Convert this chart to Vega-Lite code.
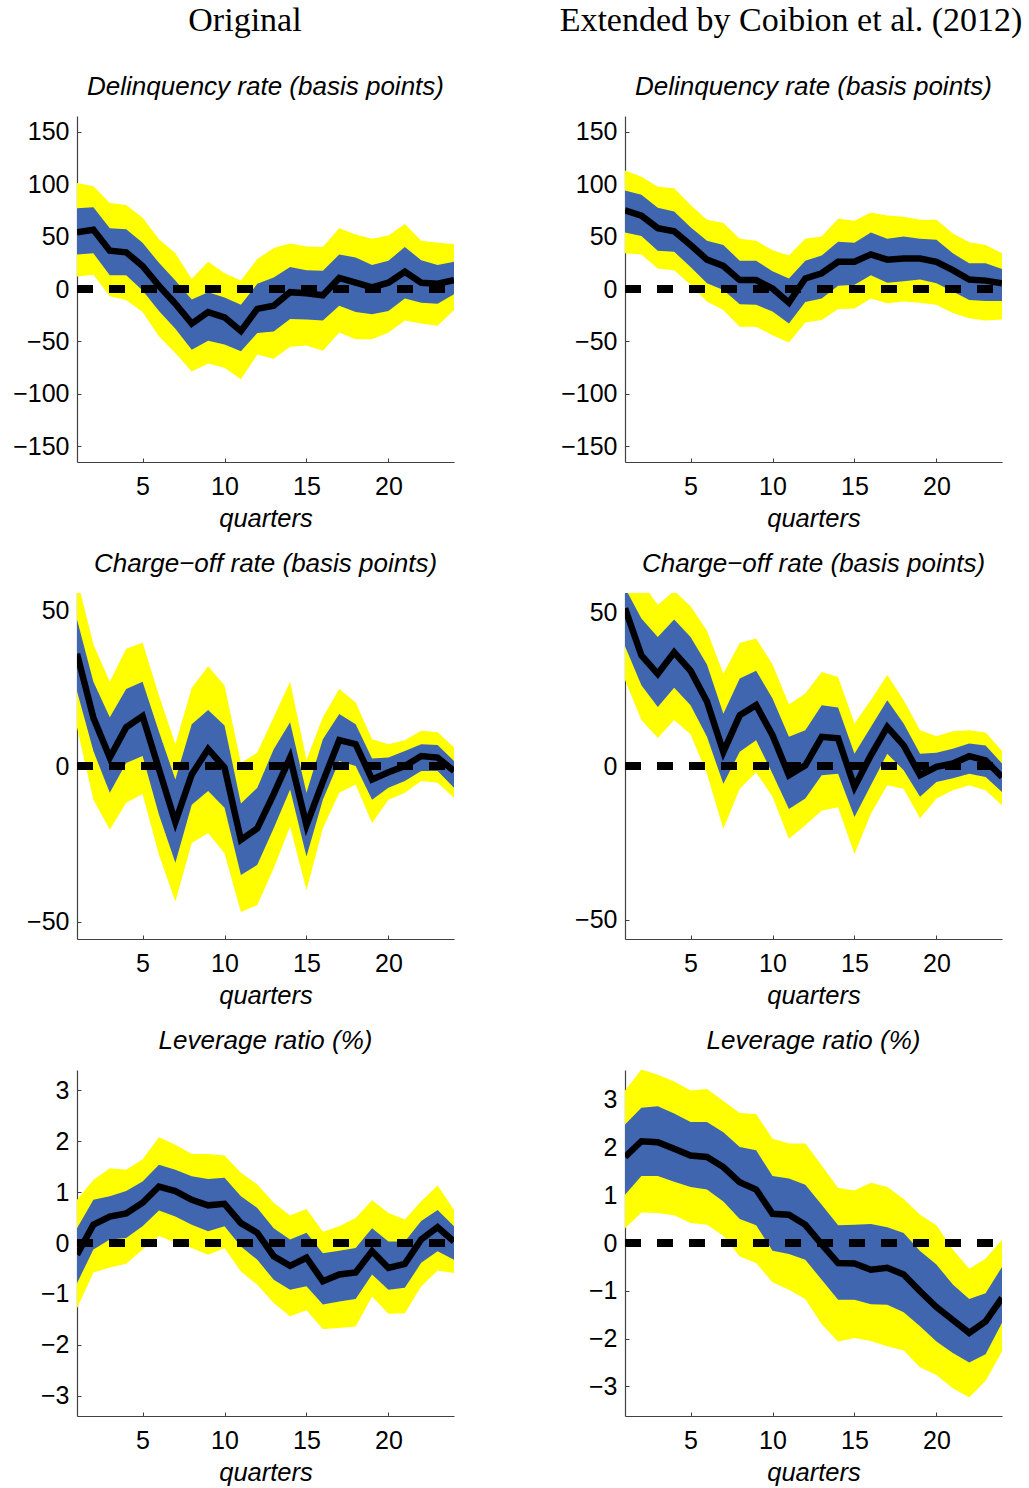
{
  "$schema": "https://vega.github.io/schema/vega-lite/v6.json",
  "background": "white",
  "padding": {"left": 12, "top": 4, "right": 4, "bottom": 4},
  "config": {
    "view": {"stroke": null},
    "font": "Liberation Sans",
    "axis": {
      "grid": false,
      "domainColor": "#404040",
      "domainWidth": 1.2,
      "tickColor": "#404040",
      "tickSize": -4,
      "labelFont": "Liberation Sans",
      "labelFontSize": 25,
      "labelColor": "black",
      "titleFont": "Liberation Sans",
      "titleFontSize": 25.5,
      "titleFontStyle": "italic",
      "titleFontWeight": "normal",
      "titleColor": "black"
    },
    "axisY": {"labelPadding": 12},
    "axisX": {"labelPadding": 16, "titlePadding": 7},
    "title": {
      "font": "Liberation Sans",
      "fontSize": 26,
      "fontStyle": "italic",
      "fontWeight": "normal",
      "color": "black",
      "anchor": "middle",
      "frame": "group",
      "baseline": "alphabetic",
      "offset": 16
    },
    "concat": {"spacing": 19}
  },
  "datasets": {
    "delinq_orig": [
      {"q":1,"lo90":12,"hi90":101,"lo68":33,"hi68":77,"med":54},
      {"q":2,"lo90":13.5,"hi90":98,"lo68":34,"hi68":78,"med":56.5},
      {"q":3,"lo90":-7,"hi90":82,"lo68":13,"hi68":58,"med":36.5},
      {"q":4,"lo90":-10.5,"hi90":80,"lo68":13,"hi68":57,"med":35},
      {"q":5,"lo90":-22,"hi90":68,"lo68":-1.5,"hi68":44,"med":22},
      {"q":6,"lo90":-45,"hi90":47.5,"lo68":-21,"hi68":25,"med":3},
      {"q":7,"lo90":-61,"hi90":34,"lo68":-38,"hi68":8,"med":-14},
      {"q":8,"lo90":-78.7,"hi90":9.5,"lo68":-58,"hi68":-10,"med":-33},
      {"q":9,"lo90":-71,"hi90":26,"lo68":-49.4,"hi68":-3,"med":-22},
      {"q":10,"lo90":-75,"hi90":15,"lo68":-53,"hi68":-8,"med":-27},
      {"q":11,"lo90":-86,"hi90":8,"lo68":-59.4,"hi68":-15,"med":-40},
      {"q":12,"lo90":-62.5,"hi90":28.5,"lo68":-42,"hi68":5,"med":-19},
      {"q":13,"lo90":-66.5,"hi90":39,"lo68":-40.6,"hi68":11,"med":-16},
      {"q":14,"lo90":-55,"hi90":43.5,"lo68":-28.5,"hi68":21,"med":-3},
      {"q":15,"lo90":-54,"hi90":40.5,"lo68":-29,"hi68":18,"med":-4},
      {"q":16,"lo90":-59,"hi90":40,"lo68":-30,"hi68":17.5,"med":-6},
      {"q":17,"lo90":-41.5,"hi90":58,"lo68":-16,"hi68":33,"med":10.5},
      {"q":18,"lo90":-48,"hi90":52,"lo68":-22,"hi68":30,"med":6},
      {"q":19,"lo90":-48,"hi90":48,"lo68":-24,"hi68":23,"med":1.5},
      {"q":20,"lo90":-41.5,"hi90":51,"lo68":-21,"hi68":27,"med":6},
      {"q":21,"lo90":-30,"hi90":62,"lo68":-9,"hi68":40,"med":16.5},
      {"q":22,"lo90":-33,"hi90":46,"lo68":-13,"hi68":27.5,"med":6},
      {"q":23,"lo90":-35,"hi90":44,"lo68":-14,"hi68":23,"med":5},
      {"q":24,"lo90":-20,"hi90":43,"lo68":-5,"hi68":26,"med":8.5}
    ],
    "delinq_ext": [
      {"q":1,"lo90":34,"hi90":113,"lo68":54,"hi68":94,"med":75},
      {"q":2,"lo90":33,"hi90":107,"lo68":50.5,"hi68":90,"med":70},
      {"q":3,"lo90":19.5,"hi90":97.5,"lo68":36.5,"hi68":77.5,"med":58},
      {"q":4,"lo90":18,"hi90":96,"lo68":35.5,"hi68":74,"med":55},
      {"q":5,"lo90":4,"hi90":80,"lo68":21,"hi68":59,"med":42},
      {"q":6,"lo90":-12,"hi90":66,"lo68":5.5,"hi68":46,"med":28},
      {"q":7,"lo90":-20,"hi90":63,"lo68":-1,"hi68":42,"med":22},
      {"q":8,"lo90":-36,"hi90":48,"lo68":-14.5,"hi68":27,"med":8.5},
      {"q":9,"lo90":-36,"hi90":46,"lo68":-15,"hi68":27,"med":8.5},
      {"q":10,"lo90":-44,"hi90":37,"lo68":-21.5,"hi68":17,"med":0.5},
      {"q":11,"lo90":-51,"hi90":32,"lo68":-33,"hi68":10,"med":-13},
      {"q":12,"lo90":-32,"hi90":48,"lo68":-12.5,"hi68":27,"med":10},
      {"q":13,"lo90":-29.5,"hi90":50,"lo68":-9,"hi68":32,"med":15},
      {"q":14,"lo90":-19,"hi90":67,"lo68":3,"hi68":45,"med":26},
      {"q":15,"lo90":-18.5,"hi90":65,"lo68":4,"hi68":44,"med":26},
      {"q":16,"lo90":-9,"hi90":73,"lo68":13,"hi68":54,"med":33},
      {"q":17,"lo90":-13.5,"hi90":70,"lo68":6,"hi68":48,"med":28},
      {"q":18,"lo90":-12,"hi90":69,"lo68":7.5,"hi68":50,"med":29},
      {"q":19,"lo90":-13,"hi90":66,"lo68":9,"hi68":48,"med":29},
      {"q":20,"lo90":-15,"hi90":66,"lo68":5.5,"hi68":47,"med":26},
      {"q":21,"lo90":-23,"hi90":53,"lo68":-2.5,"hi68":34,"med":18},
      {"q":22,"lo90":-28,"hi90":44.5,"lo68":-10.5,"hi68":24.5,"med":9},
      {"q":23,"lo90":-30,"hi90":42,"lo68":-11.5,"hi68":24.5,"med":8},
      {"q":24,"lo90":-29,"hi90":34,"lo68":-11.5,"hi68":19,"med":5.5}
    ],
    "charge_orig": [
      {"q":1,"lo90":12.4,"hi90":60,"lo68":24,"hi68":47,"med":36},
      {"q":2,"lo90":-10.8,"hi90":39,"lo68":4.8,"hi68":27,"med":15.5},
      {"q":3,"lo90":-20.4,"hi90":27,"lo68":-8.6,"hi68":15.6,"med":2.7},
      {"q":4,"lo90":-11.8,"hi90":37.6,"lo68":1,"hi68":24.7,"med":12.4},
      {"q":5,"lo90":-9,"hi90":39.5,"lo68":3.2,"hi68":27,"med":16},
      {"q":6,"lo90":-28.5,"hi90":22.6,"lo68":-15.6,"hi68":11,"med":-1},
      {"q":7,"lo90":-43.5,"hi90":7,"lo68":-31,"hi68":-4.3,"med":-18},
      {"q":8,"lo90":-24.7,"hi90":25,"lo68":-12.4,"hi68":13.4,"med":-2.7},
      {"q":9,"lo90":-21.5,"hi90":32,"lo68":-8,"hi68":18,"med":5.4},
      {"q":10,"lo90":-28,"hi90":25.8,"lo68":-13.4,"hi68":13,"med":-0.5},
      {"q":11,"lo90":-46.8,"hi90":1,"lo68":-35,"hi68":-12,"med":-23.7},
      {"q":12,"lo90":-44.6,"hi90":4.3,"lo68":-31.7,"hi68":-7,"med":-20},
      {"q":13,"lo90":-32.8,"hi90":15.6,"lo68":-20,"hi68":5.4,"med":-9},
      {"q":14,"lo90":-19.4,"hi90":27,"lo68":-7.5,"hi68":14,"med":2.7},
      {"q":15,"lo90":-39.8,"hi90":2,"lo68":-29,"hi68":-8.6,"med":-19},
      {"q":16,"lo90":-20,"hi90":15.6,"lo68":-10.8,"hi68":8.6,"med":-5},
      {"q":17,"lo90":-8.6,"hi90":24.7,"lo68":1.6,"hi68":16.7,"med":8.3},
      {"q":18,"lo90":-5.9,"hi90":20.4,"lo68":0,"hi68":13.4,"med":7},
      {"q":19,"lo90":-18.3,"hi90":8.6,"lo68":-10.8,"hi68":2.4,"med":-4.3},
      {"q":20,"lo90":-10.8,"hi90":7,"lo68":-7,"hi68":2.7,"med":-2},
      {"q":21,"lo90":-8.6,"hi90":8.3,"lo68":-4.8,"hi68":4.8,"med":0},
      {"q":22,"lo90":-4.8,"hi90":11.3,"lo68":-1.6,"hi68":7,"med":3.2},
      {"q":23,"lo90":-5.4,"hi90":10.8,"lo68":-1.6,"hi68":6.7,"med":2.7},
      {"q":24,"lo90":-10.2,"hi90":5.9,"lo68":-7,"hi68":1.6,"med":-1.6}
    ],
    "charge_ext": [
      {"q":1,"lo90":28,"hi90":68,"lo68":39,"hi68":58,"med":51.3},
      {"q":2,"lo90":15,"hi90":60,"lo68":26.3,"hi68":48,"med":36},
      {"q":3,"lo90":9.2,"hi90":52.4,"lo68":19.2,"hi68":42,"med":30},
      {"q":4,"lo90":15,"hi90":57,"lo68":25.5,"hi68":47.7,"med":37},
      {"q":5,"lo90":10.3,"hi90":52,"lo68":19.8,"hi68":42,"med":31},
      {"q":6,"lo90":-2.5,"hi90":44,"lo68":9.5,"hi68":33,"med":21},
      {"q":7,"lo90":-20.4,"hi90":30,"lo68":-5.8,"hi68":17,"med":4.6},
      {"q":8,"lo90":-7.4,"hi90":40,"lo68":4.6,"hi68":28.5,"med":16.5},
      {"q":9,"lo90":-2,"hi90":41.5,"lo68":8.4,"hi68":31,"med":19.8},
      {"q":10,"lo90":-10,"hi90":33,"lo68":-2.5,"hi68":22,"med":10},
      {"q":11,"lo90":-23.7,"hi90":20,"lo68":-14,"hi68":9.5,"med":-3},
      {"q":12,"lo90":-19.3,"hi90":23.6,"lo68":-10.6,"hi68":11.6,"med":0.2},
      {"q":13,"lo90":-14.5,"hi90":30.6,"lo68":-3,"hi68":19.8,"med":9.5},
      {"q":14,"lo90":-13.4,"hi90":29,"lo68":-2.5,"hi68":19,"med":9},
      {"q":15,"lo90":-28.6,"hi90":13.8,"lo68":-16.6,"hi68":4,"med":-6.8},
      {"q":16,"lo90":-15.5,"hi90":21.4,"lo68":-6.3,"hi68":12.7,"med":3.5},
      {"q":17,"lo90":-6.3,"hi90":29.6,"lo68":4,"hi68":21.4,"med":12.7},
      {"q":18,"lo90":-7.4,"hi90":21.4,"lo68":-1.4,"hi68":13.8,"med":6.7},
      {"q":19,"lo90":-17,"hi90":11.6,"lo68":-10,"hi68":4,"med":-3},
      {"q":20,"lo90":-10.6,"hi90":9.7,"lo68":-5.2,"hi68":4.3,"med":-0.3},
      {"q":21,"lo90":-7.9,"hi90":11.3,"lo68":-4,"hi68":5.6,"med":0.8},
      {"q":22,"lo90":-6.3,"hi90":11.6,"lo68":-2.5,"hi68":7.3,"med":3.2},
      {"q":23,"lo90":-7.9,"hi90":10.9,"lo68":-3.6,"hi68":6.7,"med":1.8},
      {"q":24,"lo90":-12.8,"hi90":4.9,"lo68":-8.5,"hi68":0.8,"med":-3.6}
    ],
    "lev_orig": [
      {"q":1,"lo90":-1.28,"hi90":0.85,"lo68":-0.79,"hi68":0.29,"med":-0.23},
      {"q":2,"lo90":-0.58,"hi90":1.24,"lo68":-0.13,"hi68":0.85,"med":0.36},
      {"q":3,"lo90":-0.48,"hi90":1.47,"lo68":0.07,"hi68":0.92,"med":0.52},
      {"q":4,"lo90":-0.41,"hi90":1.44,"lo68":0.1,"hi68":1.02,"med":0.58},
      {"q":5,"lo90":-0.13,"hi90":1.64,"lo68":0.33,"hi68":1.21,"med":0.79},
      {"q":6,"lo90":0.14,"hi90":2.08,"lo68":0.64,"hi68":1.54,"med":1.11},
      {"q":7,"lo90":0.01,"hi90":1.93,"lo68":0.52,"hi68":1.44,"med":1.02},
      {"q":8,"lo90":-0.1,"hi90":1.75,"lo68":0.36,"hi68":1.31,"med":0.85},
      {"q":9,"lo90":-0.23,"hi90":1.75,"lo68":0.23,"hi68":1.26,"med":0.74},
      {"q":10,"lo90":-0.1,"hi90":1.72,"lo68":0.33,"hi68":1.28,"med":0.77},
      {"q":11,"lo90":-0.56,"hi90":1.38,"lo68":-0.07,"hi68":0.92,"med":0.39},
      {"q":12,"lo90":-0.82,"hi90":1.15,"lo68":-0.33,"hi68":0.69,"med":0.2},
      {"q":13,"lo90":-1.18,"hi90":0.79,"lo68":-0.72,"hi68":0.29,"med":-0.26},
      {"q":14,"lo90":-1.44,"hi90":0.54,"lo68":-0.92,"hi68":0.07,"med":-0.45},
      {"q":15,"lo90":-1.32,"hi90":0.67,"lo68":-0.85,"hi68":0.2,"med":-0.29},
      {"q":16,"lo90":-1.69,"hi90":0.22,"lo68":-1.21,"hi68":-0.2,"med":-0.75},
      {"q":17,"lo90":-1.67,"hi90":0.33,"lo68":-1.15,"hi68":-0.15,"med":-0.62},
      {"q":18,"lo90":-1.64,"hi90":0.49,"lo68":-1.1,"hi68":-0.1,"med":-0.58},
      {"q":19,"lo90":-1.05,"hi90":0.84,"lo68":-0.62,"hi68":0.29,"med":-0.16},
      {"q":20,"lo90":-1.39,"hi90":0.59,"lo68":-0.92,"hi68":0.03,"med":-0.49},
      {"q":21,"lo90":-1.38,"hi90":0.46,"lo68":-0.88,"hi68":0.03,"med":-0.41},
      {"q":22,"lo90":-0.85,"hi90":0.82,"lo68":-0.39,"hi68":0.43,"med":0.07},
      {"q":23,"lo90":-0.54,"hi90":1.13,"lo68":-0.16,"hi68":0.65,"med":0.31},
      {"q":24,"lo90":-0.59,"hi90":0.65,"lo68":-0.33,"hi68":0.33,"med":0.03}
    ],
    "lev_ext": [
      {"q":1,"lo90":0.31,"hi90":3.19,"lo68":1.01,"hi68":2.48,"med":1.8},
      {"q":2,"lo90":0.64,"hi90":3.63,"lo68":1.4,"hi68":2.83,"med":2.13},
      {"q":3,"lo90":0.63,"hi90":3.52,"lo68":1.4,"hi68":2.86,"med":2.11},
      {"q":4,"lo90":0.58,"hi90":3.38,"lo68":1.28,"hi68":2.71,"med":1.97},
      {"q":5,"lo90":0.42,"hi90":3.19,"lo68":1.17,"hi68":2.53,"med":1.83},
      {"q":6,"lo90":0.38,"hi90":3.22,"lo68":1.12,"hi68":2.53,"med":1.8},
      {"q":7,"lo90":0.15,"hi90":2.97,"lo68":0.87,"hi68":2.32,"med":1.59},
      {"q":8,"lo90":-0.28,"hi90":2.72,"lo68":0.5,"hi68":2.01,"med":1.27},
      {"q":9,"lo90":-0.42,"hi90":2.7,"lo68":0.37,"hi68":1.94,"med":1.12},
      {"q":10,"lo90":-0.82,"hi90":2.18,"lo68":-0.16,"hi68":1.4,"med":0.61},
      {"q":11,"lo90":-0.98,"hi90":2.08,"lo68":-0.23,"hi68":1.35,"med":0.59},
      {"q":12,"lo90":-1.17,"hi90":2.08,"lo68":-0.35,"hi68":1.22,"med":0.38},
      {"q":13,"lo90":-1.7,"hi90":1.62,"lo68":-0.77,"hi68":0.8,"med":-0.03},
      {"q":14,"lo90":-2.06,"hi90":1.15,"lo68":-1.19,"hi68":0.37,"med":-0.42},
      {"q":15,"lo90":-1.99,"hi90":1.1,"lo68":-1.19,"hi68":0.38,"med":-0.43},
      {"q":16,"lo90":-2.05,"hi90":1.26,"lo68":-1.28,"hi68":0.4,"med":-0.56},
      {"q":17,"lo90":-2.16,"hi90":1.17,"lo68":-1.29,"hi68":0.33,"med":-0.52},
      {"q":18,"lo90":-2.25,"hi90":0.92,"lo68":-1.45,"hi68":0.21,"med":-0.66},
      {"q":19,"lo90":-2.6,"hi90":0.59,"lo68":-1.74,"hi68":-0.17,"med":-1.01},
      {"q":20,"lo90":-2.76,"hi90":0.37,"lo68":-2.06,"hi68":-0.45,"med":-1.34},
      {"q":21,"lo90":-3.04,"hi90":-0.14,"lo68":-2.3,"hi68":-0.87,"med":-1.61},
      {"q":22,"lo90":-3.23,"hi90":-0.54,"lo68":-2.5,"hi68":-1.17,"med":-1.88},
      {"q":23,"lo90":-2.88,"hi90":-0.33,"lo68":-2.33,"hi68":-1.05,"med":-1.64},
      {"q":24,"lo90":-2.27,"hi90":0.07,"lo68":-1.67,"hi68":-0.5,"med":-1.15}
    ]
  },
  "spacing": 101,
  "hconcat": [
    {
      "title": {"text": "Original", "font": "Liberation Serif", "fontSize": 34, "fontStyle": "normal", "fontWeight": "normal", "anchor": "middle", "frame": "bounds", "baseline": "alphabetic", "offset": 9, "dx": 10},
      "spacing": 19,
      "vconcat": [
        {
          "width": 377, "height": 346,
          "data": {"name": "delinq_orig"},
          "title": "Delinquency rate (basis points)",
          "layer": [
            {"mark": {"type": "area", "color": "#FFFF00", "clip": true},
             "encoding": {
               "x": {"field": "q", "type": "quantitative", "scale": {"domain": [1, 24], "nice": false, "zero": false}, "axis": {"values": [5, 10, 15, 20], "title": "quarters"}},
               "y": {"field": "lo90", "type": "quantitative", "scale": {"domain": [-165, 165], "nice": false, "zero": false}, "axis": {"values": [-150, -100, -50, 0, 50, 100, 150], "title": null}},
               "y2": {"field": "hi90"}}},
            {"mark": {"type": "area", "color": "#4066B0", "clip": true},
             "encoding": {"x": {"field": "q", "type": "quantitative"}, "y": {"field": "lo68", "type": "quantitative"}, "y2": {"field": "hi68"}}},
            {"mark": {"type": "line", "color": "black", "strokeWidth": 6.5, "clip": true},
             "encoding": {"x": {"field": "q", "type": "quantitative"}, "y": {"field": "med", "type": "quantitative"}}},
            {"mark": {"type": "rule", "color": "black", "strokeWidth": 6.5, "strokeDash": [16, 16], "strokeDashOffset": 23},
             "encoding": {"y": {"datum": 0}}}
          ]
        },
        {
          "width": 377, "height": 346,
          "data": {"name": "charge_orig"},
          "title": "Charge−off rate (basis points)",
          "layer": [
            {"mark": {"type": "area", "color": "#FFFF00", "clip": true},
             "encoding": {
               "x": {"field": "q", "type": "quantitative", "scale": {"domain": [1, 24], "nice": false, "zero": false}, "axis": {"values": [5, 10, 15, 20], "title": "quarters"}},
               "y": {"field": "lo90", "type": "quantitative", "scale": {"domain": [-55.5, 55.5], "nice": false, "zero": false}, "axis": {"values": [-50, 0, 50], "title": null}},
               "y2": {"field": "hi90"}}},
            {"mark": {"type": "area", "color": "#4066B0", "clip": true},
             "encoding": {"x": {"field": "q", "type": "quantitative"}, "y": {"field": "lo68", "type": "quantitative"}, "y2": {"field": "hi68"}}},
            {"mark": {"type": "line", "color": "black", "strokeWidth": 6.5, "clip": true},
             "encoding": {"x": {"field": "q", "type": "quantitative"}, "y": {"field": "med", "type": "quantitative"}}},
            {"mark": {"type": "rule", "color": "black", "strokeWidth": 6.5, "strokeDash": [16, 16], "strokeDashOffset": 23},
             "encoding": {"y": {"datum": 0}}}
          ]
        },
        {
          "width": 377, "height": 346,
          "data": {"name": "lev_orig"},
          "title": "Leverage ratio (%)",
          "layer": [
            {"mark": {"type": "area", "color": "#FFFF00", "clip": true},
             "encoding": {
               "x": {"field": "q", "type": "quantitative", "scale": {"domain": [1, 24], "nice": false, "zero": false}, "axis": {"values": [5, 10, 15, 20], "title": "quarters"}},
               "y": {"field": "lo90", "type": "quantitative", "scale": {"domain": [-3.4, 3.4], "nice": false, "zero": false}, "axis": {"values": [-3, -2, -1, 0, 1, 2, 3], "title": null}},
               "y2": {"field": "hi90"}}},
            {"mark": {"type": "area", "color": "#4066B0", "clip": true},
             "encoding": {"x": {"field": "q", "type": "quantitative"}, "y": {"field": "lo68", "type": "quantitative"}, "y2": {"field": "hi68"}}},
            {"mark": {"type": "line", "color": "black", "strokeWidth": 6.5, "clip": true},
             "encoding": {"x": {"field": "q", "type": "quantitative"}, "y": {"field": "med", "type": "quantitative"}}},
            {"mark": {"type": "rule", "color": "black", "strokeWidth": 6.5, "strokeDash": [16, 16], "strokeDashOffset": 23},
             "encoding": {"y": {"datum": 0}}}
          ]
        }
      ]
    },
    {
      "title": {"text": "Extended by Coibion et al. (2012)", "font": "Liberation Serif", "fontSize": 34, "fontStyle": "normal", "fontWeight": "normal", "anchor": "middle", "frame": "bounds", "baseline": "alphabetic", "offset": 9, "dx": 8},
      "spacing": 19,
      "vconcat": [
        {
          "width": 377, "height": 346,
          "data": {"name": "delinq_ext"},
          "title": "Delinquency rate (basis points)",
          "layer": [
            {"mark": {"type": "area", "color": "#FFFF00", "clip": true},
             "encoding": {
               "x": {"field": "q", "type": "quantitative", "scale": {"domain": [1, 24], "nice": false, "zero": false}, "axis": {"values": [5, 10, 15, 20], "title": "quarters"}},
               "y": {"field": "lo90", "type": "quantitative", "scale": {"domain": [-165, 165], "nice": false, "zero": false}, "axis": {"values": [-150, -100, -50, 0, 50, 100, 150], "title": null}},
               "y2": {"field": "hi90"}}},
            {"mark": {"type": "area", "color": "#4066B0", "clip": true},
             "encoding": {"x": {"field": "q", "type": "quantitative"}, "y": {"field": "lo68", "type": "quantitative"}, "y2": {"field": "hi68"}}},
            {"mark": {"type": "line", "color": "black", "strokeWidth": 6.5, "clip": true},
             "encoding": {"x": {"field": "q", "type": "quantitative"}, "y": {"field": "med", "type": "quantitative"}}},
            {"mark": {"type": "rule", "color": "black", "strokeWidth": 6.5, "strokeDash": [16, 16], "strokeDashOffset": 23},
             "encoding": {"y": {"datum": 0}}}
          ]
        },
        {
          "width": 377, "height": 346,
          "data": {"name": "charge_ext"},
          "title": "Charge−off rate (basis points)",
          "layer": [
            {"mark": {"type": "area", "color": "#FFFF00", "clip": true},
             "encoding": {
               "x": {"field": "q", "type": "quantitative", "scale": {"domain": [1, 24], "nice": false, "zero": false}, "axis": {"values": [5, 10, 15, 20], "title": "quarters"}},
               "y": {"field": "lo90", "type": "quantitative", "scale": {"domain": [-56.3, 56.3], "nice": false, "zero": false}, "axis": {"values": [-50, 0, 50], "title": null}},
               "y2": {"field": "hi90"}}},
            {"mark": {"type": "area", "color": "#4066B0", "clip": true},
             "encoding": {"x": {"field": "q", "type": "quantitative"}, "y": {"field": "lo68", "type": "quantitative"}, "y2": {"field": "hi68"}}},
            {"mark": {"type": "line", "color": "black", "strokeWidth": 6.5, "clip": true},
             "encoding": {"x": {"field": "q", "type": "quantitative"}, "y": {"field": "med", "type": "quantitative"}}},
            {"mark": {"type": "rule", "color": "black", "strokeWidth": 6.5, "strokeDash": [16, 16], "strokeDashOffset": 23},
             "encoding": {"y": {"datum": 0}}}
          ]
        },
        {
          "width": 377, "height": 346,
          "data": {"name": "lev_ext"},
          "title": "Leverage ratio (%)",
          "layer": [
            {"mark": {"type": "area", "color": "#FFFF00", "clip": true},
             "encoding": {
               "x": {"field": "q", "type": "quantitative", "scale": {"domain": [1, 24], "nice": false, "zero": false}, "axis": {"values": [5, 10, 15, 20], "title": "quarters"}},
               "y": {"field": "lo90", "type": "quantitative", "scale": {"domain": [-3.62, 3.62], "nice": false, "zero": false}, "axis": {"values": [-3, -2, -1, 0, 1, 2, 3], "title": null}},
               "y2": {"field": "hi90"}}},
            {"mark": {"type": "area", "color": "#4066B0", "clip": true},
             "encoding": {"x": {"field": "q", "type": "quantitative"}, "y": {"field": "lo68", "type": "quantitative"}, "y2": {"field": "hi68"}}},
            {"mark": {"type": "line", "color": "black", "strokeWidth": 6.5, "clip": true},
             "encoding": {"x": {"field": "q", "type": "quantitative"}, "y": {"field": "med", "type": "quantitative"}}},
            {"mark": {"type": "rule", "color": "black", "strokeWidth": 6.5, "strokeDash": [16, 16], "strokeDashOffset": 23},
             "encoding": {"y": {"datum": 0}}}
          ]
        }
      ]
    }
  ]
}
